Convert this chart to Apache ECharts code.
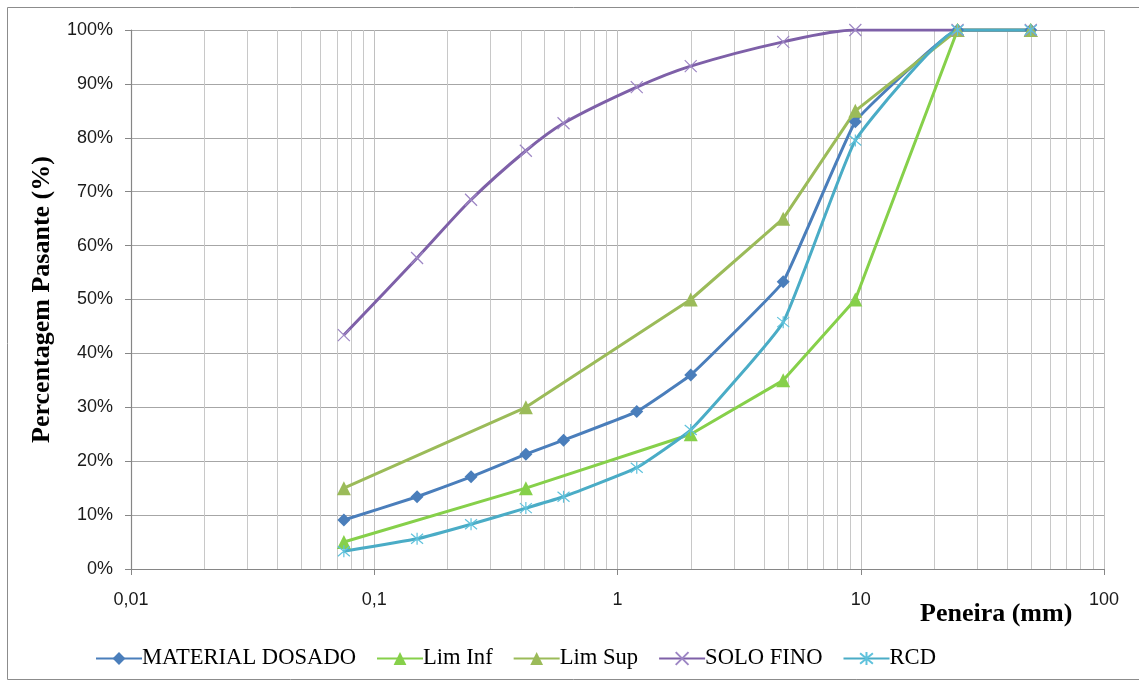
<!DOCTYPE html>
<html>
<head>
<meta charset="utf-8">
<script src="https://cdn.jsdelivr.net/npm/echarts@6/dist/echarts.min.js"></script>
<style>
  html, body { margin: 0; padding: 0; background: #ffffff; }
  #chart { width: 1139px; height: 684px; }
</style>
</head>
<body>
<div id="chart"></div>
<script>
// Sieve openings (mm) and percent passing for each curve
const sieves = [0.075, 0.15, 0.25, 0.42, 0.6, 1.2, 2.0, 4.8, 9.5, 25, 50];
const materialDosado = [9.1, 13.4, 17.1, 21.3, 23.9, 29.2, 36.0, 53.3, 83.0, 100, 100];
const soloFino = [43.4, 57.7, 68.5, 77.6, 82.7, 89.4, 93.3, 97.8, 100, 100, 100];
const rcd = [3.3, 5.6, 8.3, 11.3, 13.4, 18.8, 25.8, 45.8, 79.5, 100, 100];

// Grading envelope limits
const limSieves = [0.075, 0.42, 2.0, 4.8, 9.5, 25, 50];
const limInf = [5, 15, 25, 35, 50, 100, 100];
const limSup = [15, 30, 50, 65, 85, 100, 100];

const seriesNames = ['MATERIAL DOSADO', 'Lim Inf', 'Lim Sup', 'SOLO FINO', 'RCD'];
const xTitle = 'Peneira (mm)';
const yTitle = 'Percentagem Pasante (%)';

// Minor log gridlines (2..9 within each decade)
const decades = [0.01, 0.1, 1, 10];
const minorGrid = [];
decades.forEach(d => { for (let k = 2; k <= 9; k++) minorGrid.push(+(d * k).toPrecision(6)); });

const pairs = (xs, ys) => xs.map((x, i) => [x, ys[i]]);

const SYM_X = 'path://M0,0L10,10M10,0L0,10';
const SYM_STAR = 'path://M0,0L10,10M10,0L0,10M5,-1L5,11';

const chart = echarts.init(document.getElementById('chart'), null, { renderer: 'canvas' });

const option = {
  animation: false,
  backgroundColor: '#ffffff',
  grid: { left: 131, right: 35, top: 30, bottom: 115 },
  graphic: [
    {
      type: 'rect', silent: true, z: -10,
      shape: { x: 7.5, y: 7.5, width: 1140, height: 672 },
      style: { fill: 'none', stroke: '#8c8c8c', lineWidth: 1 }
    },
    {
      type: 'text', left: 920, top: 601,
      style: {
        text: xTitle, fill: '#000000',
        font: 'bold 26px "Liberation Serif", "Times New Roman", serif'
      }
    }
  ],
  legend: {
    data: seriesNames,
    left: 90, top: 642,
    itemWidth: 46, itemHeight: 16, itemGap: 20,
    textStyle: { fontFamily: '"Liberation Serif", "Times New Roman", serif', fontSize: 22.6, color: '#000000', padding: [0, 0, 0, -5] }
  },
  xAxis: {
    type: 'log', logBase: 10, min: 0.01, max: 100,
    axisLine: { show: true, lineStyle: { color: '#868686', width: 1.2 } },
    axisTick: { show: true, inside: false, length: 6, lineStyle: { color: '#868686' } },
    axisLabel: {
      margin: 22, color: '#1a1a1a',
      fontFamily: '"Liberation Sans", Arial, sans-serif', fontSize: 18,
      formatter: v => String(+Number(v).toPrecision(6)).replace('.', ',')
    },
    splitLine: { show: true, lineStyle: { color: '#c0c0c0', width: 1 } }
  },
  yAxis: {
    type: 'value', min: 0, max: 100, interval: 10,
    name: yTitle, nameLocation: 'middle', nameRotate: 90, nameGap: 76,
    nameTextStyle: { fontFamily: '"Liberation Serif", "Times New Roman", serif', fontWeight: 'bold', fontSize: 26, color: '#000000' },
    axisLine: { show: true, lineStyle: { color: '#868686', width: 1.2 } },
    axisTick: { show: true, inside: false, length: 6, lineStyle: { color: '#868686' } },
    axisLabel: {
      margin: 18, color: '#1a1a1a',
      fontFamily: '"Liberation Sans", Arial, sans-serif', fontSize: 18,
      formatter: v => v + '%'
    },
    splitLine: { show: true, lineStyle: { color: '#a6a6a6', width: 1 } }
  },
  series: [
    {
      // minor vertical gridlines of the logarithmic axis
      type: 'custom', silent: true, z: 0,
      data: minorGrid.map(v => [v]),
      renderItem: (params, api) => {
        const v = api.value(0);
        const p0 = api.coord([v, 0]);
        const p1 = api.coord([v, 100]);
        return {
          type: 'line',
          shape: { x1: Math.round(p0[0]) + 0.5, y1: p0[1], x2: Math.round(p1[0]) + 0.5, y2: p1[1] },
          style: { stroke: '#c8c8c8', lineWidth: 1 }
        };
      }
    },
    {
      name: seriesNames[0], type: 'line', z: 3,
      data: pairs(sieves, materialDosado),
      smooth: 0.08,
      symbol: 'diamond', symbolSize: 13,
      lineStyle: { color: '#4a7ebb', width: 3 },
      itemStyle: { color: '#4a7ebb' }
    },
    {
      name: seriesNames[1], type: 'line', z: 3,
      data: pairs(limSieves, limInf),
      symbol: 'triangle', symbolSize: 14,
      lineStyle: { color: '#86d04a', width: 3 },
      itemStyle: { color: '#86d04a' }
    },
    {
      name: seriesNames[2], type: 'line', z: 3,
      data: pairs(limSieves, limSup),
      symbol: 'triangle', symbolSize: 14,
      lineStyle: { color: '#9bbb59', width: 3 },
      itemStyle: { color: '#9bbb59' }
    },
    {
      name: seriesNames[3], type: 'line', z: 3,
      data: pairs(sieves, soloFino),
      smooth: 0.3,
      symbol: SYM_X, symbolSize: 12,
      lineStyle: { color: '#7e60a8', width: 3 },
      itemStyle: { color: 'none', borderColor: '#9d86c4', borderWidth: 1.2 }
    },
    {
      name: seriesNames[4], type: 'line', z: 3,
      data: pairs(sieves, rcd),
      smooth: 0.12,
      symbol: SYM_STAR, symbolSize: 12,
      lineStyle: { color: '#4aacc6', width: 3 },
      itemStyle: { color: 'none', borderColor: '#5fc2dc', borderWidth: 1.2 }
    }
  ]
};

chart.setOption(option);
</script>
</body>
</html>
